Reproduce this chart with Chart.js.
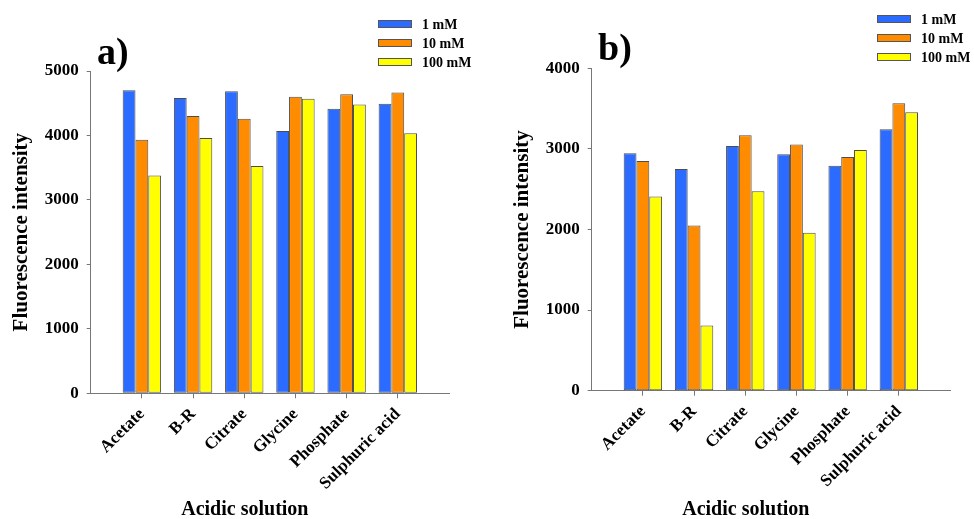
<!DOCTYPE html>
<html>
<head>
<meta charset="utf-8">
<script src="https://cdn.jsdelivr.net/npm/chart.js@4.4.0/dist/chart.umd.min.js"></script>
<style>
    html, body { margin: 0; padding: 0; background: #fff; }
    .panel { position: absolute; top: 0; width: 487px; height: 519px; }
    #panel_a { left: 0; }
    #panel_b { left: 487px; }
</style>
</head>
<body>
<div class="panel" id="panel_a"><canvas id="chart_a" width="487" height="519"></canvas></div>
<div class="panel" id="panel_b"><canvas id="chart_b" width="487" height="519"></canvas></div>
<script>
var categories = ['Acetate', 'B-R', 'Citrate', 'Glycine', 'Phosphate', 'Sulphuric acid'];
var seriesLabels = ['1 mM', '10 mM', '100 mM'];

// panel a)
var a1mM = [4700, 4580, 4685, 4070, 4415, 4490];
var a10mM = [3935, 4300, 4260, 4600, 4640, 4665];
var a100mM = [3380, 3960, 3525, 4570, 4480, 4035];
var aTicks = [0, 1000, 2000, 3000, 4000, 5000];

// panel b)
var b1mM = [2945, 2750, 3035, 2935, 2790, 3245];
var b10mM = [2850, 2050, 3170, 3055, 2900, 3565];
var b100mM = [2410, 810, 2475, 1960, 2985, 3455];
var bTicks = [0, 1000, 2000, 3000, 4000];

var serif = '"Liberation Serif", "Times New Roman", serif';
var colors = ['#2B6BFF', '#FF8C00', '#FFFF00'];
var axisColor = '#777';

// legend, panel letter and x title drawn by hand (legend sits above the plot)
var panelDecor = {
    id: 'panelDecor',
    afterDraw: function (chart, args, opts) {
        var ctx = chart.ctx;
        var area = chart.chartArea;
        ctx.save();
        ctx.fillStyle = '#000';
        ctx.textAlign = 'left';
        ctx.textBaseline = 'alphabetic';
        ctx.font = 'bold 38px ' + serif;
        ctx.fillText(opts.letter, opts.letterX, opts.letterY);

        ctx.font = 'bold 14px ' + serif;
        ctx.textBaseline = 'middle';
        chart.data.datasets.forEach(function (ds, i) {
            var y = opts.legendY + i * 19;
            ctx.fillStyle = ds.backgroundColor;
            ctx.fillRect(opts.legendX, y - 4, 34, 8);
            ctx.strokeStyle = '#555';
            ctx.lineWidth = 1;
            ctx.strokeRect(opts.legendX + 0.5, y - 3.5, 33, 7);
            ctx.fillStyle = '#000';
            ctx.fillText(ds.label, opts.legendX + 44, y + 1);
        });

        ctx.font = 'bold 20px ' + serif;
        ctx.textAlign = 'center';
        ctx.textBaseline = 'alphabetic';
        ctx.fillText(opts.xTitle, (area.left + area.right) / 2 - 25, 515);
        ctx.restore();
    }
};

function makePanel(canvasId, series, ticks, box) {
    // one empty slot on each side of the categories
    var labels = [''].concat(categories, ['']);

    var datasets = series.map(function (values, i) {
        return {
            label: seriesLabels[i],
            data: [null].concat(values, [null]),
            backgroundColor: colors[i],
            borderColor: '#4d4d4d',
            borderWidth: 1,
            borderSkipped: false,
            categoryPercentage: 0.75,
            barPercentage: 1.0
        };
    });

    return new Chart(document.getElementById(canvasId), {
        type: 'bar',
        data: {labels: labels, datasets: datasets},
        plugins: [panelDecor],
        options: {
            responsive: false,
            animation: false,
            devicePixelRatio: 1,
            layout: {
                padding: {left: 0, top: box.top, right: box.right, bottom: 0}
            },
            plugins: {
                legend: {display: false},
                tooltip: {enabled: false},
                panelDecor: {
                    letter: box.letter,
                    letterX: box.letterX,
                    letterY: box.letterY,
                    legendX: box.legendX,
                    legendY: box.legendY,
                    xTitle: 'Acidic solution'
                }
            },
            scales: {
                x: {
                    offset: false,
                    grid: {offset: false, drawOnChartArea: false, tickLength: 5, color: axisColor},
                    border: {color: axisColor},
                    ticks: {
                        autoSkip: false,
                        minRotation: 45,
                        maxRotation: 45,
                        padding: 6,
                        color: '#000',
                        font: {family: serif, size: 17, weight: 'bold'}
                    },
                    afterBuildTicks: function (axis) {
                        axis.ticks = axis.ticks.filter(function (t) {
                            return t.value >= 1 && t.value <= categories.length;
                        });
                    },
                    afterFit: function (axis) {
                        axis.height = 519 - box.bottom;
                    }
                },
                y: {
                    min: ticks[0],
                    max: ticks[ticks.length - 1],
                    grid: {drawOnChartArea: false, tickLength: 4, color: axisColor},
                    border: {color: axisColor},
                    ticks: {
                        padding: 8,
                        color: '#000',
                        font: {family: serif, size: 17, weight: 'bold'},
                        callback: function (value) {
                            return String(value);
                        }
                    },
                    title: {
                        display: true,
                        text: 'Fluorescence intensity',
                        color: '#000',
                        padding: {top: box.titlePad, bottom: 0},
                        font: {family: serif, size: 21, weight: 'bold'}
                    },
                    afterBuildTicks: function (axis) {
                        axis.ticks = ticks.map(function (v) {
                            return {value: v};
                        });
                    },
                    afterFit: function (axis) {
                        axis.width = box.left;
                    }
                }
            }
        }
    });
}

makePanel('chart_a', [a1mM, a10mM, a100mM], aTicks, {
    left: 90.7, top: 71, right: 38, bottom: 393.3, titlePad: 9,
    letter: 'a)', letterX: 97, letterY: 64, legendX: 378, legendY: 24
});

makePanel('chart_b', [b1mM, b10mM, b100mM], bTicks, {
    left: 104.7, top: 68.3, right: 24, bottom: 390.7, titlePad: 23,
    letter: 'b)', letterX: 111, letterY: 60, legendX: 390, legendY: 19
});
</script>
</body>
</html>
